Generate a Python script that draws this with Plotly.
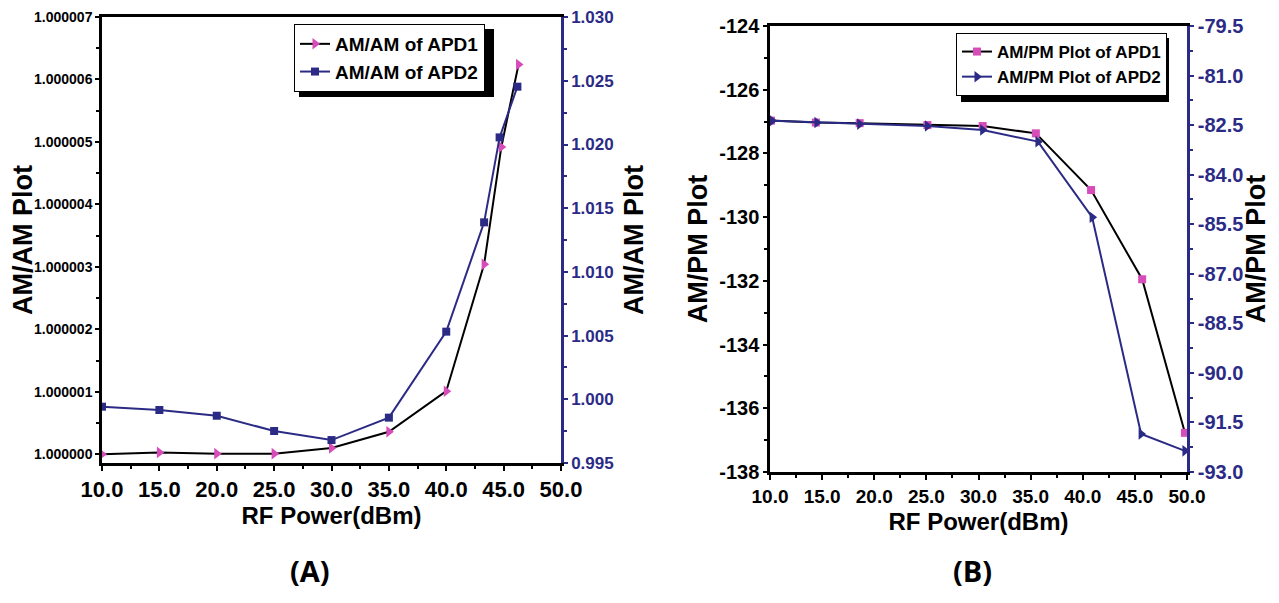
import plotly.graph_objects as go

# ---------------- data ----------------
# Panel (A): AM/AM
xA1 = [10, 15, 20, 25, 30, 35, 40, 43.3, 44.8, 46.3]
yA1 = [1.0000000, 1.00000003, 1.00000001, 1.00000001, 1.00000010,
       1.00000036, 1.00000101, 1.00000304, 1.00000492, 1.00000624]
xA2 = [10, 15, 20, 25, 30, 35, 40, 43.3, 44.65, 46.2]
yA2 = [0.99942, 0.99916, 0.99871, 0.99751, 0.99680,
       0.99856, 1.00531, 1.01389, 1.02056, 1.02454]

# Panel (B): AM/PM
xB1 = [10.1, 14.4, 18.6, 25.1, 30.4, 35.5, 40.8, 45.7, 49.8]
yB1 = [-126.97, -127.03, -127.05, -127.11, -127.14, -127.37, -129.15, -131.95, -136.77]
xB2 = [10.2, 14.5, 18.6, 25.1, 30.4, 35.7, 40.9, 45.6, 49.8]
yB2 = [-82.37, -82.42, -82.47, -82.53, -82.65, -83.00, -85.29, -91.85, -92.36]

names = ["AM/AM of APD1", "AM/AM of APD2", "AM/PM Plot of APD1", "AM/PM Plot of APD2"]
x_title = "RF Power(dBm)"
yA_title = "AM/AM Plot"
yB_title = "AM/PM Plot"
panel_labels = ["(A)", "(B)"]
yA_ticks = [1.0, 1.000001, 1.000002, 1.000003, 1.000004, 1.000005, 1.000006, 1.000007]
yA_minor = [1.0000005, 1.0000015, 1.0000025, 1.0000035, 1.0000045, 1.0000055, 1.0000065]
yA_right_ticks = [0.995, 1.000, 1.005, 1.010, 1.015, 1.020, 1.025, 1.030]
yB_left_ticks = [-138, -136, -134, -132, -130, -128, -126, -124]
yB_right_ticks = [-93.0, -91.5, -90.0, -88.5, -87.0, -85.5, -84.0, -82.5, -81.0, -79.5]

# ---------------- style ----------------
OFF = 8                    # page body margin in the browser
W, H = 1279 - 2 * OFF, 603 - 2 * OFF
PINK = "#d64cb8"
NAVY = "#2b2b86"
BLACK = "#000000"
FONT = "Liberation Sans, Arial, sans-serif"


def px_x(p):
    return (p - OFF) / W


def px_y(p):
    return 1 - (p - OFF) / H


def tf(size, color=BLACK):
    return dict(family=FONT, size=size, color=color, weight="bold")


fig = go.Figure()

fig.add_trace(go.Scatter(x=xA1, y=yA1, name=names[0], mode="lines+markers",
                         line=dict(color=BLACK, width=2),
                         marker=dict(symbol="triangle-right", size=10, color=PINK),
                         xaxis="x", yaxis="y", legend="legend"))
fig.add_trace(go.Scatter(x=xA2, y=yA2, name=names[1], mode="lines+markers",
                         line=dict(color=NAVY, width=2),
                         marker=dict(symbol="square", size=8, color=NAVY),
                         xaxis="x", yaxis="y2", legend="legend"))
fig.add_trace(go.Scatter(x=xB1, y=yB1, name=names[2], mode="lines+markers",
                         line=dict(color=BLACK, width=2),
                         marker=dict(symbol="square", size=8, color=PINK),
                         xaxis="x2", yaxis="y3", legend="legend2"))
fig.add_trace(go.Scatter(x=xB2, y=yB2, name=names[3], mode="lines+markers",
                         line=dict(color=NAVY, width=2),
                         marker=dict(symbol="triangle-right", size=10, color=NAVY),
                         xaxis="x2", yaxis="y4", legend="legend2"))


def xaxis_cfg(domain, anchor, size, std):
    return dict(domain=domain, anchor=anchor, automargin=False,
                range=[10, 50], dtick=5, tickformat=".1f", showline=True, linecolor=BLACK,
                linewidth=2.5, mirror=True, ticks="outside", ticklen=5, tickwidth=2,
                tickcolor=BLACK, showgrid=False, zeroline=False,
                minor=dict(ticks="outside", ticklen=3, tickwidth=1.5, tickcolor=BLACK, dtick=2.5),
                tickfont=tf(size),
                title=dict(text=x_title, font=tf(24), standoff=std))


def yaxis_cfg(color, size, **kw):
    d = dict(automargin=False, showline=True, linecolor=color, linewidth=2.5,
             ticks="outside", ticklen=4, tickwidth=2, tickcolor=color, showgrid=False,
             zeroline=False, tickfont=tf(size, color))
    d.update(kw)
    return d


def minor(color, **kw):
    d = dict(ticks="outside", ticklen=3, tickwidth=1.5, tickcolor=color)
    d.update(kw)
    return d


fig.update_layout(
    width=W, height=H, paper_bgcolor="white", plot_bgcolor="rgba(0,0,0,0)",
    margin=dict(l=0, r=0, t=0, b=0),
    xaxis=xaxis_cfg([px_x(102), px_x(561)], "y", 22, 4),
    yaxis=yaxis_cfg(BLACK, 14, domain=[px_y(463), px_y(17)], anchor="x",
                    range=[0.99999986, 1.000007], tickvals=yA_ticks, tickformat=".6f",
                    minor=minor(BLACK, tickvals=yA_minor),
                    title=dict(text=yA_title, font=tf(27), standoff=0)),
    yaxis2=yaxis_cfg(NAVY, 17, overlaying="y", side="right", anchor="x",
                     range=[0.995, 1.03001], tickvals=yA_right_ticks,
                     ticktext=[f"{v:.3f}" for v in yA_right_ticks],
                     minor=minor(NAVY, dtick=0.0025),
                     title=dict(text=yA_title, font=tf(27), standoff=12)),
    xaxis2=xaxis_cfg([px_x(770), px_x(1187)], "y3", 19, 8),
    yaxis3=yaxis_cfg(BLACK, 20, domain=[px_y(472), px_y(26)], anchor="x2",
                     range=[-138, -124], tickvals=yB_left_ticks,
                     ticktext=[f"{v:d}" for v in yB_left_ticks],
                     minor=minor(BLACK, dtick=1),
                     title=dict(text=yB_title, font=tf(27), standoff=4)),
    yaxis4=yaxis_cfg(NAVY, 20, overlaying="y3", side="right", anchor="x2",
                     range=[-93.0, -79.5], tickvals=yB_right_ticks,
                     ticktext=[f"{v:.1f}" for v in yB_right_ticks],
                     minor=minor(NAVY, dtick=0.75),
                     title=dict(text=yB_title, font=tf(27), standoff=12)),
    legend=dict(x=px_x(294), y=px_y(24), xanchor="left", yanchor="top",
                bgcolor="white", bordercolor=BLACK, borderwidth=1,
                font=tf(19), itemwidth=30, tracegroupgap=0),
    legend2=dict(x=px_x(956), y=px_y(33), xanchor="left", yanchor="top",
                 bgcolor="white", bordercolor=BLACK, borderwidth=1,
                 font=tf(17), itemwidth=30, tracegroupgap=0),
    showlegend=True,
)

# legend drop shadows
fig.add_shape(type="rect", xref="paper", yref="paper", layer="above",
              x0=px_x(299), x1=px_x(494), y0=px_y(97), y1=px_y(29),
              fillcolor=BLACK, line=dict(width=0))
fig.add_shape(type="rect", xref="paper", yref="paper", layer="above",
              x0=px_x(961), x1=px_x(1169), y0=px_y(102), y1=px_y(38),
              fillcolor=BLACK, line=dict(width=0))

for lab, cx in zip(panel_labels, [310, 972]):
    fig.add_annotation(text=lab, x=px_x(cx), y=px_y(570), xref="paper", yref="paper",
                       showarrow=False, xanchor="center", yanchor="middle",
                       font=dict(family="Open Sans, Liberation Sans, sans-serif", size=29,
                                 color=BLACK, weight="bold"))

fig.write_html("out.html")
